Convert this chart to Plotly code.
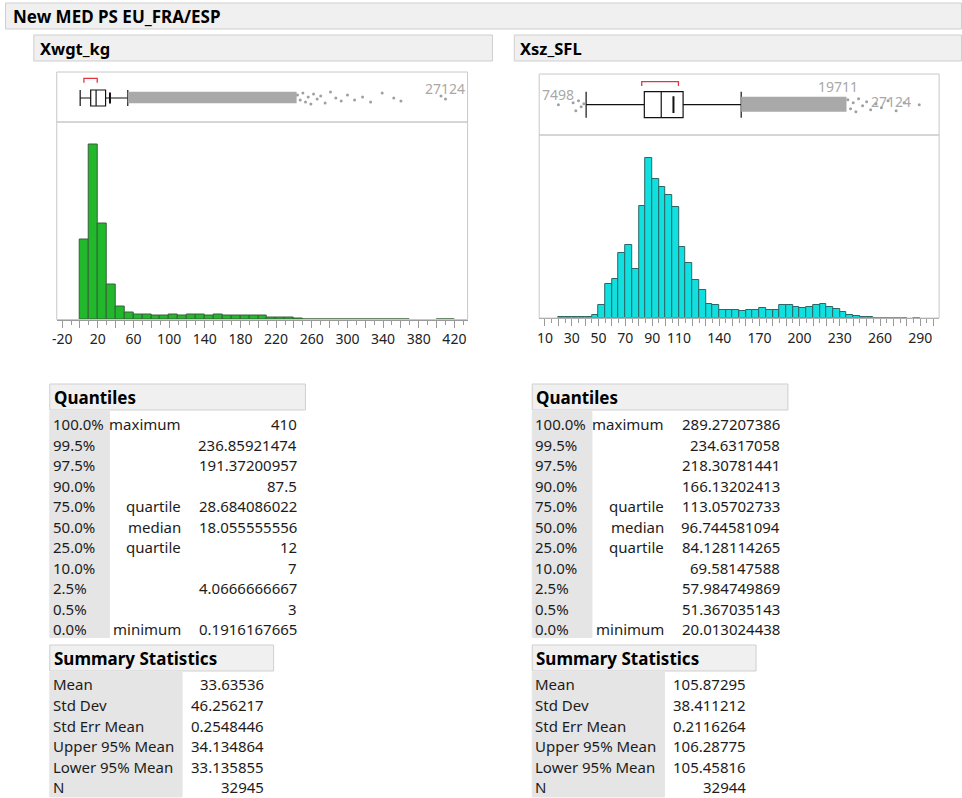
import plotly.graph_objects as go

W, H = 962, 798

# ---------------- data ----------------
title_text = "New MED PS EU_FRA/ESP"
var_names = ["Xwgt_kg", "Xsz_SFL"]

# histogram Xwgt_kg : bins of width 10 starting at 0
wgt_bin_width = 10
wgt_bin_start = list(range(0, 420, 10))
wgt_counts = [5330, 11610, 6390, 2330, 845, 445, 335, 335, 245, 245,
              335, 245, 335, 335, 245, 335, 245, 245, 245, 245,
              245, 155, 155, 155, 100,
              14, 12, 11, 10, 9, 8, 7, 6, 5, 4, 3, 2,
              None, None, None, 2, 1]

# histogram Xsz_SFL : bins of width 5 starting at 20
sz_bin_width = 5
sz_bin_start = list(range(20, 290, 5))
sz_counts = [15, 15, 15, 15, 15,
             75, 283, 767, 864, 1460, 1624, 1103, 2496, 3576, 3114,
             2928, 2749, 2481, 1594, 1229, 857, 618, 320, 283, 186,
             186, 186, 156, 186, 186, 224, 186, 186, 283, 283,
             253, 224, 253, 291, 313, 253, 194, 127, 60, 35,
             18, 30, 10, 10, 10, 10, 10, None, 8]

# box plot statistics
wgt_box = dict(low=0.1916167665, q1=12.0, median=18.055555556, q3=28.684086022, high=53.6)
sz_box = dict(low=40.7, q1=84.128114265, median=96.744581094, q3=113.05702733, high=156.4)
wgt_mean = 33.63536
sz_mean = 105.87295
wgt_shortest_half = [4.4, 19.3]
sz_shortest_half = [82.2, 109.6]

# outliers: dense band extent and sparse points (value, vertical jitter in px)
wgt_dense = [53.6, 243.0]
wgt_sparse_x = [244, 247, 250, 253, 256, 259, 262, 266, 270, 275, 281, 287,
                293, 300, 308, 317, 326, 339, 352, 360, 405, 410]
wgt_sparse_j = [3, -2, 5, -4, 1, -6, 4, -1, 2, -5, 6, 0, -3, 3, -2, 1, -4, 5, 0, -3, 2, -1]
sz_dense = [156.4, 235.0]
sz_sparse_x = [20.01, 31, 33, 35, 37, 39, 236, 238, 240, 242, 244, 247, 250, 253,
               257, 261, 266, 272, 278, 289.27]
sz_sparse_j = [0, 2, -6, 4, -2, 1, 5, -4, 2, -7, 6, -1, 3, -5, 1, -3, 4, -6, 2, 0]

# labelled points
wgt_point_labels = [("27124", 410.0)]
sz_point_labels = [("7498", 20.01), ("19711", 229.0), ("27124", 268.5)]

# axis tick labels
wgt_tick_major = list(range(-20, 440, 20))
wgt_tick_labels = ["-20", "20", "60", "100", "140", "180", "220", "260", "300", "340", "380", "420"]
sz_tick_major = list(range(10, 310, 10))
sz_tick_labels = ["10", "30", "50", "70", "90", "110", "140", "170", "200", "230", "260", "290"]

# tables
quantile_levels = ["100.0%", "99.5%", "97.5%", "90.0%", "75.0%", "50.0%",
                   "25.0%", "10.0%", "2.5%", "0.5%", "0.0%"]
quantile_names = ["maximum", "", "", "", "quartile", "median", "quartile", "", "", "", "minimum"]
wgt_quantiles = ["410", "236.85921474", "191.37200957", "87.5", "28.684086022",
                 "18.055555556", "12", "7", "4.0666666667", "3", "0.1916167665"]
sz_quantiles = ["289.27207386", "234.6317058", "218.30781441", "166.13202413",
                "113.05702733", "96.744581094", "84.128114265", "69.58147588",
                "57.984749869", "51.367035143", "20.013024438"]
summary_names = ["Mean", "Std Dev", "Std Err Mean", "Upper 95% Mean", "Lower 95% Mean", "N"]
wgt_summary = ["33.63536", "46.256217", "0.2548446", "34.134864", "33.135855", "32945"]
sz_summary = ["105.87295", "38.411212", "0.2116264", "106.28775", "105.45816", "32944"]

# ---------------- helpers ----------------
FONT = "Noto Sans, Open Sans, DejaVu Sans, sans-serif"
TXT = "#1c1c1c"


def px(x):
    return x / W


def py(y):
    return 1 - y / H


shapes = []
annotations = []


def rect(x0, y0, x1, y1, fill="rgba(0,0,0,0)", line="#c8c8c8", layer="below", lw=1):
    shapes.append(dict(type="rect", xref="paper", yref="paper",
                       x0=px(x0), x1=px(x1), y0=py(y1), y1=py(y0),
                       fillcolor=fill, line=dict(color=line, width=lw), layer=layer))


def text(x, y, s, anchor="left", size=15, bold=False, color=TXT):
    annotations.append(dict(xref="paper", yref="paper", x=px(x), y=py(y),
                            text=("<b>%s</b>" % s) if bold else s,
                            xanchor=anchor, yanchor="middle", showarrow=False,
                            font=dict(family=FONT, size=size, color=color)))


fig = go.Figure()

# ---------------- histograms ----------------
fig.add_trace(go.Bar(
    x=[b + wgt_bin_width / 2 for b in wgt_bin_start], y=wgt_counts, width=wgt_bin_width,
    marker=dict(color="#22b82c", line=dict(color="#3a5f3a", width=1)),
    xaxis="x", yaxis="y", showlegend=False, hoverinfo="skip"))
fig.add_trace(go.Bar(
    x=[b + sz_bin_width / 2 for b in sz_bin_start], y=sz_counts, width=sz_bin_width,
    marker=dict(color="#10e0e0", line=dict(color="#2e6666", width=1)),
    xaxis="x3", yaxis="y3", showlegend=False, hoverinfo="skip"))


# ---------------- box plots ----------------
def add_box(xa, ya, box, mean, half, dense, sx, sj, labels, bw, band_w, mean_size, br):
    fig.add_trace(go.Scatter(x=dense, y=[0.5, 0.5], mode="lines",
                             line=dict(color="#a9a9a9", width=band_w),
                             xaxis=xa, yaxis=ya, showlegend=False, hoverinfo="skip"))
    fig.add_trace(go.Scatter(x=sx, y=sj, mode="markers",
                             marker=dict(color="#a0a0a0", size=3),
                             xaxis=xa, yaxis=ya, showlegend=False, hoverinfo="skip"))
    fig.add_trace(go.Box(orientation="h", y=[0], q1=[box["q1"]], median=[box["median"]],
                         q3=[box["q3"]], lowerfence=[box["low"]], upperfence=[box["high"]],
                         width=bw, whiskerwidth=1, fillcolor="white",
                         line=dict(color="#111111", width=1.2), boxpoints=False,
                         xaxis=xa, yaxis=ya, showlegend=False, hoverinfo="skip"))
    fig.add_trace(go.Scatter(x=[mean], y=[0], mode="markers",
                             marker=dict(symbol="line-ns", size=mean_size,
                                         line=dict(color="#111111", width=2)),
                             xaxis=xa, yaxis=ya, showlegend=False, hoverinfo="skip"))
    fig.add_trace(go.Scatter(x=[half[0], half[0], half[1], half[1]],
                             y=[br[0], br[1], br[1], br[0]], mode="lines",
                             line=dict(color="#e3343f", width=1.3),
                             xaxis=xa, yaxis=ya, showlegend=False, hoverinfo="skip"))
    for lab, v, yy in labels:
        annotations.append(dict(xref=xa, yref=ya, x=v, y=yy, text=lab, showarrow=False,
                                xanchor="center", yanchor="middle",
                                font=dict(family=FONT, size=14, color="#a8a8a8")))


add_box("x2", "y2", wgt_box, wgt_mean, wgt_shortest_half, wgt_dense,
        wgt_sparse_x, wgt_sparse_j,
        [(wgt_point_labels[0][0], wgt_point_labels[0][1], 10)], 16, 11.5, 8, (15.3, 19.7))
add_box("x4", "y4", sz_box, sz_mean, sz_shortest_half, sz_dense,
        sz_sparse_x, sz_sparse_j,
        [(sz_point_labels[0][0], sz_point_labels[0][1], 9.7),
         (sz_point_labels[1][0], sz_point_labels[1][1], 17.7),
         (sz_point_labels[2][0], sz_point_labels[2][1], 2.7)], 26, 15, 12, (18.7, 23))


# ---------------- axes ----------------
def hist_xaxis(domain, rng, major, labels_shown):
    txt = [str(v) if str(v) in labels_shown else "" for v in major]
    minor_step = major[1] - major[0]
    return dict(domain=domain, range=rng, showgrid=False, zeroline=False,
                showline=True, linecolor="#9a9a9a", linewidth=1,
                tickmode="array", tickvals=major, ticktext=txt,
                ticks="outside", ticklen=7, tickcolor="#9a9a9a", tickwidth=1,
                tickfont=dict(family=FONT, size=14, color="#222222"),
                minor=dict(tickvals=[v + minor_step / 2 for v in major],
                           ticks="outside", ticklen=4, tickcolor="#9a9a9a"),
                fixedrange=True)


hidden = dict(visible=False, showgrid=False, zeroline=False, fixedrange=True)

L_x = [52, 465]
R_x = [537, 939]

fig.update_layout(
    xaxis=hist_xaxis([px(L_x[0]), px(L_x[1])], [-26.1, 434.8], wgt_tick_major, wgt_tick_labels) | dict(anchor="y"),
    yaxis=dict(hidden, domain=[py(319.5), py(122.5)], range=[0, 13090], anchor="x"),
    xaxis2=dict(hidden, domain=[px(L_x[0]), px(L_x[1])], range=[-26.1, 434.8], anchor="y2"),
    yaxis2=dict(hidden, domain=[py(122), py(72)], range=[-24, 26], anchor="x2"),
    xaxis3=hist_xaxis([px(R_x[0]), px(R_x[1])], [5.7, 304.1], sz_tick_major, sz_tick_labels) | dict(anchor="y3"),
    yaxis3=dict(hidden, domain=[py(318), py(136)], range=[0, 4064], anchor="x3"),
    xaxis4=dict(hidden, domain=[px(R_x[0]), px(R_x[1])], range=[5.7, 304.1], anchor="y4"),
    yaxis4=dict(hidden, domain=[py(135), py(74)], range=[-30.3, 30.7], anchor="x4"),
)

# panel frames
rect(L_x[0], 72, L_x[1], 122, layer="above")
rect(L_x[0], 122, L_x[1], 319.5, layer="above")
rect(R_x[0], 74, R_x[1], 135, layer="above")
rect(R_x[0], 135, R_x[1], 318, layer="above")

# ---------------- headers ----------------
rect(0.5, 3, 961.5, 29, fill="#f0f0f0", line="#cfcfcf")
text(6, 16, title_text, size=17, bold=True, color="#000000")
rect(29, 35, 490, 61, fill="#f0f0f0", line="#cfcfcf")
text(33, 48, var_names[0], size=16.5, bold=True, color="#000000")
rect(512, 35, 961.5, 61, fill="#f0f0f0", line="#cfcfcf")
text(516, 48, var_names[1], size=16.5, bold=True, color="#000000")


# ---------------- tables ----------------
def tables(x0, qvals, svals):
    rect(x0, 384, x0 + 257, 410, fill="#f0f0f0", line="#cfcfcf")
    text(x0 + 2, 397, "Quantiles", size=17, bold=True, color="#000000")
    rect(x0, 411.5, x0 + 60, 637.5, fill="#e5e5e5", line="#e5e5e5")
    for i in range(len(quantile_levels)):
        yy = 424.3 + i * 20.5
        text(x0 + 1, yy, quantile_levels[i])
        if quantile_names[i]:
            text(x0 + 134, yy, quantile_names[i], anchor="right")
        text(x0 + 251, yy, qvals[i], anchor="right")
    rect(x0, 645, x0 + 225, 671, fill="#f0f0f0", line="#cfcfcf")
    text(x0 + 2, 658, "Summary Statistics", size=17, bold=True, color="#000000")
    rect(x0, 672.5, x0 + 133, 797, fill="#e5e5e5", line="#e5e5e5")
    for i in range(len(summary_names)):
        yy = 684.3 + i * 20.6
        text(x0 + 1, yy, summary_names[i])
        text(x0 + 217, yy, svals[i], anchor="right")


tables(45, wgt_quantiles, wgt_summary)
tables(530, sz_quantiles, sz_summary)

fig.update_layout(
    width=W, height=H, margin=dict(l=0, r=0, t=0, b=0),
    paper_bgcolor="white", plot_bgcolor="white",
    bargap=0, barmode="overlay", showlegend=False,
    shapes=shapes, annotations=annotations,
    font=dict(family=FONT),
)

fig.write_html(
    "out.html",
    config={"responsive": False, "displayModeBar": False},
    post_script="document.body.style.margin='0';document.body.style.padding='0';"
                "document.body.style.overflow='hidden';",
)
